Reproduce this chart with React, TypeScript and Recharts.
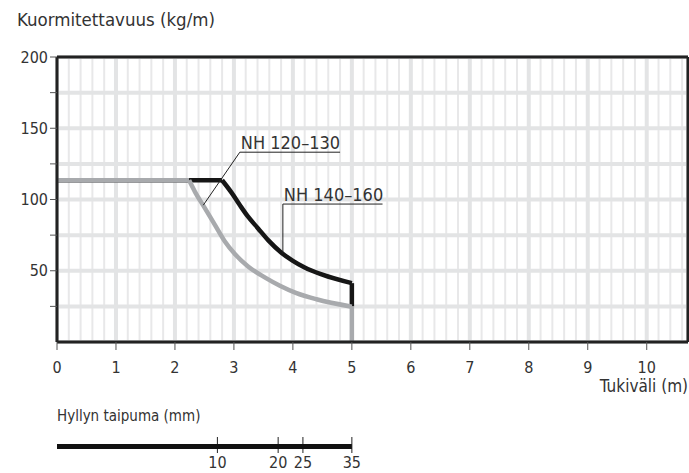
import { LineChart, Line, XAxis, YAxis, CartesianGrid, ReferenceLine } from "recharts"

// span (m) on x, load capacity (kg/m) on y
const spanTicks = [0, 1, 2, 3, 4, 5, 6, 7, 8, 9, 10]
const loadTicks = [25, 50, 75, 100, 125, 150, 175, 200]
const loadLabels = [50, 100, 150, 200]
const minorSpanTicks: number[] = []
for (let i = 1; i < 54; i++) if (i % 5 !== 0) minorSpanTicks.push(Math.round(i * 20) / 100)

// NH 140–160 (black)
const blackFlat = [
  { x: 0, y: 113.5 },
  { x: 2.8, y: 113.5 },
]
const blackCurve = [
  { x: 2.8, y: 113.5 },
  { x: 2.96, y: 104.8 },
  { x: 3.1, y: 96.1 },
  { x: 3.24, y: 87.9 },
  { x: 3.41, y: 79.7 },
  { x: 3.58, y: 71.5 },
  { x: 3.81, y: 62.5 },
  { x: 4.0, y: 57 },
  { x: 4.2, y: 52.3 },
  { x: 4.5, y: 47.3 },
  { x: 5.0, y: 41.3 },
]
const blackDrop = [
  { x: 5.0, y: 41.3 },
  { x: 5.0, y: 25 },
]

// NH 120–130 (grey)
const greyFlat = [
  { x: 0, y: 113.5 },
  { x: 2.24, y: 113.5 },
]
const greyCurve = [
  { x: 2.24, y: 113.5 },
  { x: 2.34, y: 105.4 },
  { x: 2.51, y: 93.8 },
  { x: 2.68, y: 82 },
  { x: 2.85, y: 70.3 },
  { x: 3.02, y: 61.5 },
  { x: 3.24, y: 53 },
  { x: 3.53, y: 45.2 },
  { x: 3.78, y: 39.5 },
  { x: 4.05, y: 34.5 },
  { x: 4.4, y: 30 },
  { x: 5.0, y: 24.8 },
]
const greyDrop = [
  { x: 5.0, y: 24.8 },
  { x: 5.0, y: 0 },
]

// shelf deflection scale
const deflectionMm = [10, 20, 25, 35]
const deflectionSpan = [2.72, 3.75, 4.17, 5.0]
const deflectionBar = [
  { x: 0, y: 0.8 },
  { x: 5.0, y: 0.8 },
]

const FONT = '"Liberation Sans Narrow", "DejaVu Sans Condensed", "Open Sans", sans-serif'
const TEXT = "#333"
const X_MAX = 10.7

function minorGridX({ xAxis, offset }: any) {
  const sc = xAxis?.scale
  if (typeof sc === "function") return minorSpanTicks.map((t) => sc(t))
  if (sc && typeof sc.map === "function") return minorSpanTicks.map((t) => sc.map(t))
  return minorSpanTicks.map((t) => offset.left + (t / X_MAX) * offset.width)
}

function AnnLabel(props: any) {
  const vb = props.viewBox || {}
  return (
    <text x={vb.x + 1} y={vb.y - 3.5} fill={TEXT} fontSize={18} fontFamily={FONT}>
      {props.text}
    </text>
  )
}

export default function App() {
  return (
    <div style={{ position: "absolute", left: 0, top: 0, width: 689, height: 473, background: "#fff", fontFamily: FONT, color: TEXT }}>
      <div style={{ position: "absolute", left: 17, top: 8, fontSize: 18.5, lineHeight: "24px" }}>Kuormitettavuus (kg/m)</div>

      <div style={{ position: "absolute", left: 0, top: 0 }}>
        <LineChart width={689} height={380} margin={{ top: 57, right: 1, left: 0, bottom: 0 }}>
          <XAxis
            type="number"
            dataKey="x"
            domain={[0, X_MAX]}
            ticks={spanTicks}
            interval={0}
            allowDataOverflow
            height={38}
            tickSize={8}
            tickMargin={12}
            axisLine={{ stroke: "#222", strokeWidth: 3 }}
            tickLine={{ stroke: "#555" }}
            tick={{ fill: TEXT, fontSize: 16, fontFamily: FONT }}
          />
          <XAxis
            xAxisId="inner"
            mirror
            type="number"
            domain={[0, X_MAX]}
            ticks={spanTicks}
            interval={0}
            tickSize={7}
            axisLine={false}
            tickLine={{ stroke: "#555" }}
            tickFormatter={() => ""}
          />
          <YAxis
            type="number"
            domain={[0, 200]}
            ticks={loadTicks}
            interval={0}
            width={57}
            tickSize={7}
            tickMargin={2}
            axisLine={{ stroke: "#222", strokeWidth: 3 }}
            tickLine={{ stroke: "#555" }}
            tick={{ fill: TEXT, fontSize: 16, fontFamily: FONT }}
            tickFormatter={(v: number) => (loadLabels.includes(v) ? String(v) : "")}
          />
          <YAxis
            yAxisId="inner"
            mirror
            type="number"
            domain={[0, 200]}
            ticks={loadTicks}
            interval={0}
            tickSize={9}
            axisLine={false}
            tickLine={{ stroke: "#555" }}
            tickFormatter={() => ""}
          />
          <CartesianGrid horizontal={false} stroke="#e8e8e9" strokeWidth={2} verticalCoordinatesGenerator={minorGridX} />
          <CartesianGrid stroke="#e3e4e5" strokeWidth={4} />

          <ReferenceLine y={200} stroke="#222" strokeWidth={3} />
          <ReferenceLine x={X_MAX} stroke="#222" strokeWidth={3} />

          <Line data={blackFlat} dataKey="y" type="linear" stroke="#161616" strokeWidth={4.5} dot={false} isAnimationActive={false} />
          <Line data={blackCurve} dataKey="y" type="monotone" stroke="#161616" strokeWidth={4.5} dot={false} isAnimationActive={false} />
          <Line data={blackDrop} dataKey="y" type="linear" stroke="#161616" strokeWidth={4.5} dot={false} isAnimationActive={false} />
          <Line data={greyFlat} dataKey="y" type="linear" stroke="#a8aaad" strokeWidth={4.5} dot={false} isAnimationActive={false} />
          <Line data={greyCurve} dataKey="y" type="monotone" stroke="#a8aaad" strokeWidth={4.5} dot={false} isAnimationActive={false} />
          <Line data={greyDrop} dataKey="y" type="linear" stroke="#a8aaad" strokeWidth={4.5} dot={false} isAnimationActive={false} />

          {/* callouts */}
          <ReferenceLine segment={[{ x: 2.48, y: 96 }, { x: 3.1, y: 133.2 }]} stroke="#222" strokeWidth={1} />
          <ReferenceLine
            segment={[{ x: 3.1, y: 133.2 }, { x: 4.8, y: 133.2 }]}
            stroke="#222"
            strokeWidth={1}
            label={<AnnLabel text="NH 120–130" />}
          />
          <ReferenceLine segment={[{ x: 3.83, y: 62 }, { x: 3.83, y: 96.8 }]} stroke="#222" strokeWidth={1} />
          <ReferenceLine
            segment={[{ x: 3.83, y: 96.8 }, { x: 5.52, y: 96.8 }]}
            stroke="#222"
            strokeWidth={1}
            label={<AnnLabel text="NH 140–160" />}
          />
        </LineChart>
      </div>

      <div style={{ position: "absolute", right: 1, top: 376, fontSize: 17, lineHeight: "20px" }}>Tukiväli (m)</div>
      <div style={{ position: "absolute", left: 57, top: 406, fontSize: 15, lineHeight: "20px" }}>Hyllyn taipuma (mm)</div>

      <div style={{ position: "absolute", left: 0, top: 425 }}>
        <LineChart width={689} height={48} margin={{ top: 12, right: 1, left: 57, bottom: 0 }}>
          <XAxis
            type="number"
            dataKey="x"
            domain={[0, X_MAX]}
            ticks={deflectionSpan}
            interval={0}
            height={20}
            axisLine={false}
            tickLine={false}
            tickSize={4}
            tickMargin={0}
            tick={{ fill: TEXT, fontSize: 16, fontFamily: FONT }}
            tickFormatter={(v: number) => String(deflectionMm[deflectionSpan.indexOf(v)])}
          />
          <YAxis hide domain={[0, 2]} />
          {deflectionSpan.map((s) => (
            <ReferenceLine key={s} x={s} stroke="#222" strokeWidth={1} />
          ))}
          <Line data={deflectionBar} dataKey="y" type="linear" stroke="#111" strokeWidth={5} dot={false} isAnimationActive={false} />
        </LineChart>
      </div>
    </div>
  )
}
